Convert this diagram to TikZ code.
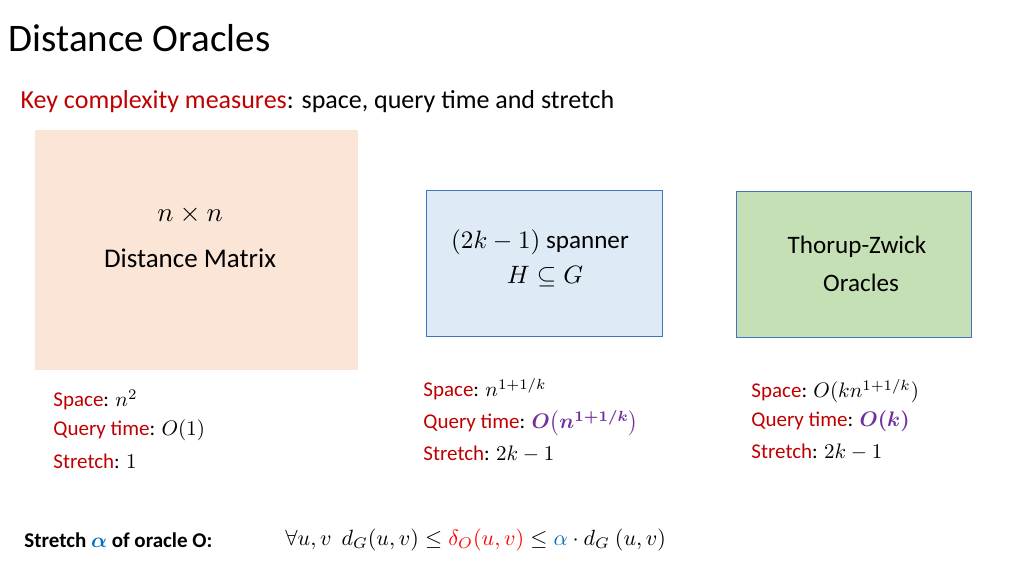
\documentclass[tikz,border=0pt]{standalone}
\usepackage{amsmath,amssymb,bm}
\usepackage{fontspec}
\setmainfont{Carlito}
\definecolor{kred}{RGB}{192,0,0}
\definecolor{kpur}{RGB}{112,48,160}
\definecolor{kblue}{RGB}{0,112,192}
\definecolor{peach}{RGB}{251,229,214}
\definecolor{lblue}{RGB}{222,235,247}
\definecolor{lgreen}{RGB}{197,224,180}
\definecolor{bord}{RGB}{68,114,196}
\begin{document}
\begin{tikzpicture}[x=1pt,y=-1pt,
  lbl/.style={anchor=west,inner sep=0pt,scale=2.1},
  btxt/.style={inner sep=0pt,scale=2.7,align=center},
  boxs/.style={draw=bord,line width=0.8pt,anchor=north west,inner sep=0pt}]
\useasboundingbox (0,0) rectangle (1024,576);
\node[anchor=west,inner sep=0pt,scale=3.9] (title) at (8,38) {Distance Oracles};
\node[anchor=west,inner sep=0pt,scale=2.6] (sub) at (20,102) {\textcolor{kred}{Key complexity measures}: space, query time and stretch};
\node[fill=peach,anchor=north west,inner sep=0pt,minimum width=323pt,minimum height=240pt] (b1) at (35,130) {};
\node[boxs,fill=lblue,minimum width=236pt,minimum height=146pt] (b2) at (426,190) {};
\node[boxs,fill=lgreen,minimum width=235pt,minimum height=146pt] (b3) at (736,191) {};
\node[btxt] (t1a) at (190,215) {$n\times n$};
\node[btxt] (t1b) at (190,258) {Distance Matrix};
\node[btxt,scale=0.93] (t2a) at (540,242) {$(2k-1)$ spanner};
\node[btxt,scale=0.93] (t2b) at (545,277) {$H\subseteq G$};
\node[btxt,scale=0.93] (t3a) at (857,247) {Thorup-Zwick};
\node[btxt,scale=0.93] (t3b) at (861,283) {Oracles};
\node[lbl] (s1) at (53,400) {\textcolor{kred}{Space}: $n^2$};
\node[lbl] (q1) at (53,430) {\textcolor{kred}{Query time}: $O(1)$};
\node[lbl] (r1) at (53,461) {\textcolor{kred}{Stretch}: $1$};
\node[lbl] (s2) at (423,389) {\textcolor{kred}{Space}: $n^{1+1/k}$};
\node[lbl] (q2) at (423,423) {\textcolor{kred}{Query time}: $\color{kpur}\bm{O\bigl(n^{1+1/k}\bigr)}$};
\node[lbl] (r2) at (423,454) {\textcolor{kred}{Stretch}: $2k-1$};
\node[lbl] (s3) at (751,391) {\textcolor{kred}{Space}: $O(kn^{1+1/k})$};
\node[lbl] (q3) at (751,421) {\textcolor{kred}{Query time}: $\color{kpur}\bm{O(k)}$};
\node[lbl] (r3) at (751,452) {\textcolor{kred}{Stretch}: $2k-1$};
\node[lbl] (st) at (24,540) {\textbf{Stretch $\color{kblue}\bm{\alpha}$ of oracle $\mathbf{O}$:}};
\node[lbl,scale=1.05] (fm) at (285,540) {$\forall u,v\ \ d_G(u,v)\le \color{red}\delta_O(u,v)\color{black}\le \color{kblue}\alpha\color{black}\cdot d_G\ (u,v)$};
\end{tikzpicture}
\end{document}
